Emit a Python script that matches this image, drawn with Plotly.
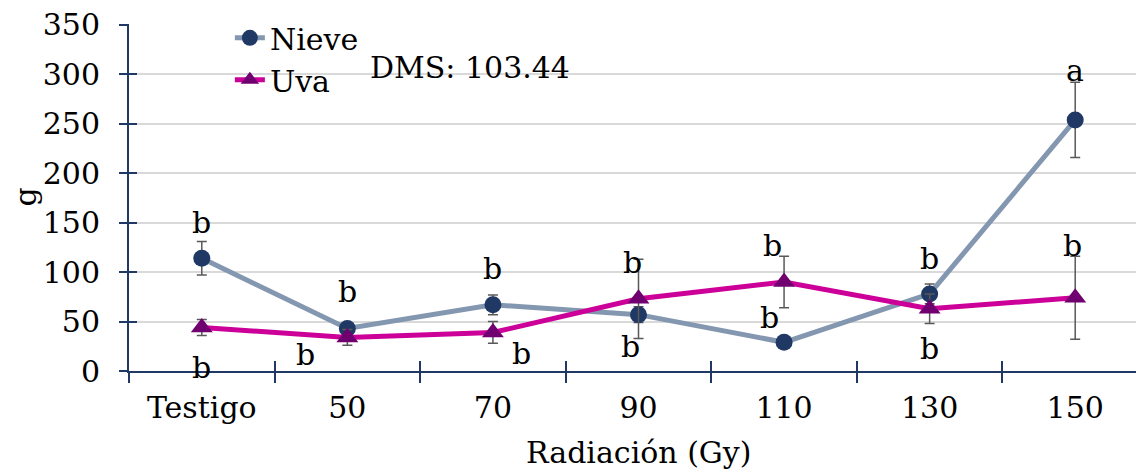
import plotly.graph_objects as go

categories = ["Testigo", "50", "70", "90", "110", "130", "150"]
nieve = [114, 43, 67, 57, 29, 78, 254]
nieve_err = [17, 5, 10, 8, 0, 10, 38]
uva = [44, 34, 39, 73, 90, 63, 74]
uva_err = [8, 8, 11, 40, 26, 15, 42]

letters_upper = ["b", "b", "b", "b", "b", "b", "a"]
letters_lower = ["b", "b", "b", "b", "b", "b"]
letters_150_uva = "b"
dms_text = "DMS: 103.44"
y_ticks = [0, 50, 100, 150, 200, 250, 300, 350]

# label placement (value units / pixel shifts)
upper_y = [150, 80, 104, 110, 127, 114, 304]
upper_dx = [0, 0, 0, -6, -12, 0, 0]
lower_y = [4, 17, 18, 25, 54, 23]
lower_dx = [0, -42, 29, -8, -15, 0]

FONT = "DejaVu Serif"
AXC = "#1f3864"
FS = 30

fig = go.Figure()
fig.add_trace(go.Scatter(
    x=categories, y=nieve, name="Nieve", mode="lines+markers",
    line=dict(color="#8497b0", width=5),
    marker=dict(symbol="circle", size=17, color="#1f3864"),
    error_y=dict(type="data", array=nieve_err, color="#595959", thickness=1.5, width=5),
))
fig.add_trace(go.Scatter(
    x=categories, y=uva, name="Uva", mode="lines+markers",
    line=dict(color="#cc0099", width=5),
    marker=dict(symbol="triangle-up", size=19, color="#700070"),
    error_y=dict(type="data", array=uva_err, color="#595959", thickness=1.5, width=5),
))
# invisible trace for crossing tick marks
fig.add_trace(go.Scatter(x=categories, y=[None] * len(categories), xaxis="x2", yaxis="y2",
                         showlegend=False, hoverinfo="skip", mode="markers"))

ann = []
for i, t in enumerate(letters_upper):
    ann.append(dict(x=i, y=upper_y[i], text=t, showarrow=False, xshift=upper_dx[i],
                    font=dict(family=FONT, size=FS, color="black")))
for i, t in enumerate(letters_lower):
    ann.append(dict(x=i, y=lower_y[i], text=t, showarrow=False, xshift=lower_dx[i],
                    font=dict(family=FONT, size=FS, color="black")))
ann.append(dict(x=6, y=127, text=letters_150_uva, showarrow=False, xshift=-3,
                font=dict(family=FONT, size=FS, color="black")))
ann.append(dict(x=0.2345, xref="paper", y=307, yref="y", text=dms_text, showarrow=False,
                xanchor="left", font=dict(family=FONT, size=FS, color="black")))
ann.append(dict(x=-0.102, xref="paper", y=0.5, yref="paper", text="g", textangle=-90,
                xanchor="center", yanchor="middle",
                showarrow=False, font=dict(family=FONT, size=FS, color="black")))
ann.append(dict(x=0.5, xref="paper", y=-0.236, yref="paper", text="Radiación (Gy)",
                showarrow=False, xanchor="center", yanchor="middle",
                font=dict(family=FONT, size=FS, color="black")))

fig.update_layout(
    width=1144, height=472,
    margin=dict(l=121, r=4, t=16, b=109),
    paper_bgcolor="white", plot_bgcolor="white",
    font=dict(family=FONT, size=FS, color="black"),
    showlegend=True,
    legend=dict(x=0.099, y=1.035, xanchor="left", yanchor="top",
                bgcolor="rgba(0,0,0,0)", font=dict(family=FONT, size=FS),
                tracegroupgap=0, itemwidth=30),
    annotations=ann,
    xaxis=dict(type="category", categoryorder="array", categoryarray=categories,
               range=[-0.5, 6.5], showline=True, linecolor=AXC, linewidth=2,
               ticks="outside", ticklen=10, tickwidth=1.5, tickcolor=AXC, tickson="boundaries",
               showgrid=False, tickfont=dict(family=FONT, size=FS), automargin=False,
               ticklabelstandoff=9),
    yaxis=dict(range=[0, 351], tickmode="array", tickvals=y_ticks, showline=True,
               linecolor=AXC, linewidth=2, ticklabeloverflow="allow",
               ticks="outside", ticklen=8, tickwidth=1.5, tickcolor=AXC,
               showgrid=True, gridcolor="#d9d9d9", gridwidth=1.5, zeroline=False,
               tickfont=dict(family=FONT, size=FS), ticklabelstandoff=13, automargin=False),
    xaxis2=dict(type="category", categoryorder="array", categoryarray=categories,
                overlaying="x", range=[-0.5, 6.5], showline=False, ticks="inside", ticklen=10,
                tickwidth=1.5, tickcolor=AXC, tickson="boundaries", showticklabels=False,
                showgrid=False, anchor="y2", side="bottom", automargin=False),
    yaxis2=dict(overlaying="y", range=[0, 351], tickmode="array", tickvals=y_ticks,
                showline=False, ticks="inside", ticklabeloverflow="allow",
                ticklen=8, tickwidth=1.5, tickcolor=AXC, showticklabels=False,
                showgrid=False, zeroline=False, anchor="x2", side="left", automargin=False),
)

fig.write_html("out.html")
